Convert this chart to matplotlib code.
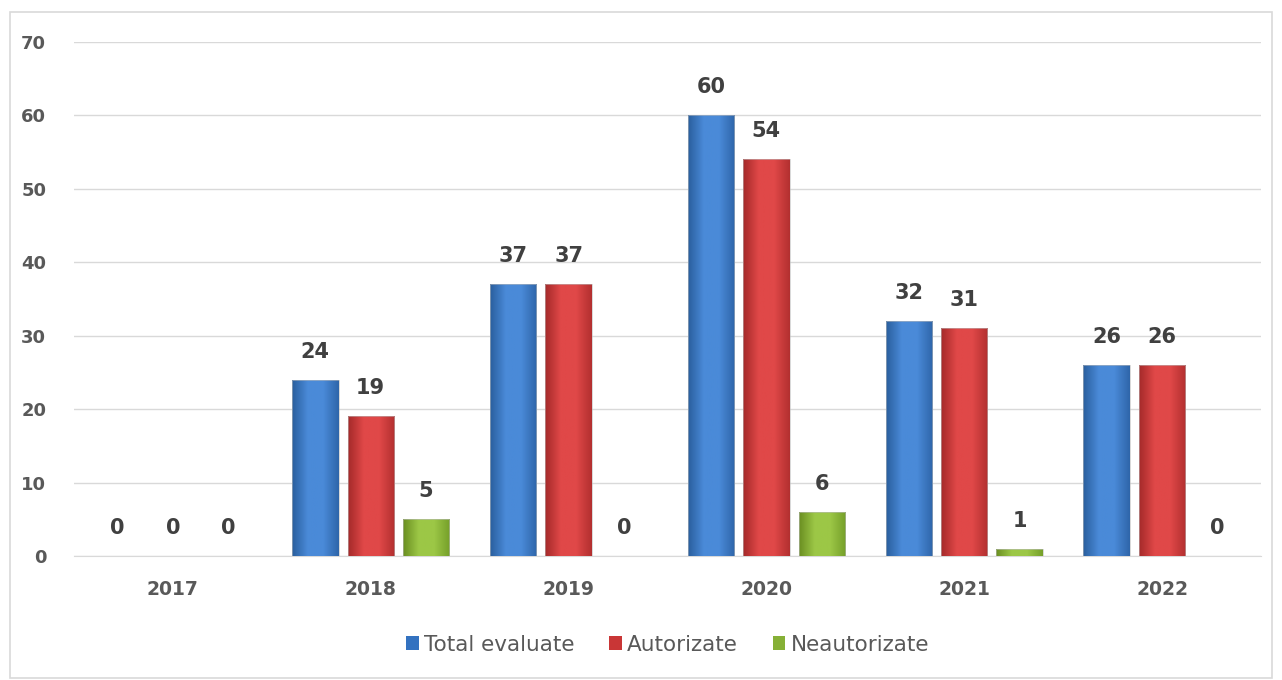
import matplotlib.pyplot as plt
import numpy as np
from matplotlib.colors import LinearSegmentedColormap
from matplotlib.patches import Rectangle

years = ['2017', '2018', '2019', '2020', '2021', '2022']
total = [0, 24, 37, 60, 32, 26]
autorizate = [0, 19, 37, 54, 31, 26]
neautorizate = [0, 5, 0, 6, 1, 0]

series = [
    ('Total evaluate', total, ('#2a5f9e', '#4a8ad8', '#2f66aa'), '#3372c0'),
    ('Autorizate', autorizate, ('#a52a2a', '#e04848', '#b33030'), '#c93636'),
    ('Neautorizate', neautorizate, ('#6b8f22', '#9cc746', '#76a02a'), '#86b036'),
]

plt.rcParams['font.family'] = ['DejaVu Sans']
fig = plt.figure(figsize=(12.82, 6.8), dpi=100)
fig.patches.append(Rectangle((10 / 1282, 2 / 680), 1262 / 1282, 666 / 680, transform=fig.transFigure,
                             fill=False, edgecolor='#d9d9d9', linewidth=1.2))
ax = fig.add_axes([74 / 1282, 124 / 680, 1187 / 1282, 514 / 680])

x = np.arange(len(years))
width = 0.235
offsets = [-0.28, 0.0, 0.28]
grad = np.linspace(0, 1, 64).reshape(1, -1)

for (name, vals, cols, legcol), off in zip(series, offsets):
    cmap = LinearSegmentedColormap.from_list(name, [cols[0], cols[1], cols[1], cols[2]])
    bars = ax.bar(x + off, vals, width, color=legcol, label=name, zorder=3)
    for b, v in zip(bars, vals):
        if v > 0:
            b.set_facecolor('none')
            b.set_edgecolor('#bbbbbb')
            b.set_linewidth(0.4)
            im = ax.imshow(grad, cmap=cmap, aspect='auto', zorder=2.9,
                           extent=[b.get_x(), b.get_x() + b.get_width(), 0, v])
            im.set_clip_path(b)
        ax.annotate(str(v), (b.get_x() + b.get_width() / 2, v), xytext=(0, 13),
                    textcoords='offset points', ha='center', va='bottom',
                    fontsize=15, fontweight='bold', color='#404040')

ax.set_xlim(-0.5, len(years) - 0.5)
ax.set_ylim(0, 70)
ax.set_yticks(range(0, 71, 10))
ax.set_xticks(x)
ax.set_xticklabels(years)
ax.grid(axis='y', color='#d9d9d9', linewidth=1, zorder=0)
for s in ['top', 'right', 'left']:
    ax.spines[s].set_visible(False)
ax.spines['bottom'].set_color('#d9d9d9')
ax.tick_params(axis='y', length=0, pad=20, labelsize=13, labelcolor='#595959')
ax.tick_params(axis='x', length=0, pad=17, labelsize=13.5, labelcolor='#595959')
for lbl in ax.get_xticklabels() + ax.get_yticklabels():
    lbl.set_fontweight('bold')

ax.legend(loc='center', bbox_to_anchor=(0.5, -0.173), ncol=3, frameon=False,
          fontsize=15.5, handlelength=0.6, handleheight=0.6, handletextpad=0.25,
          columnspacing=1.6, labelcolor='#595959')

fig.savefig('out.png', dpi=100)
